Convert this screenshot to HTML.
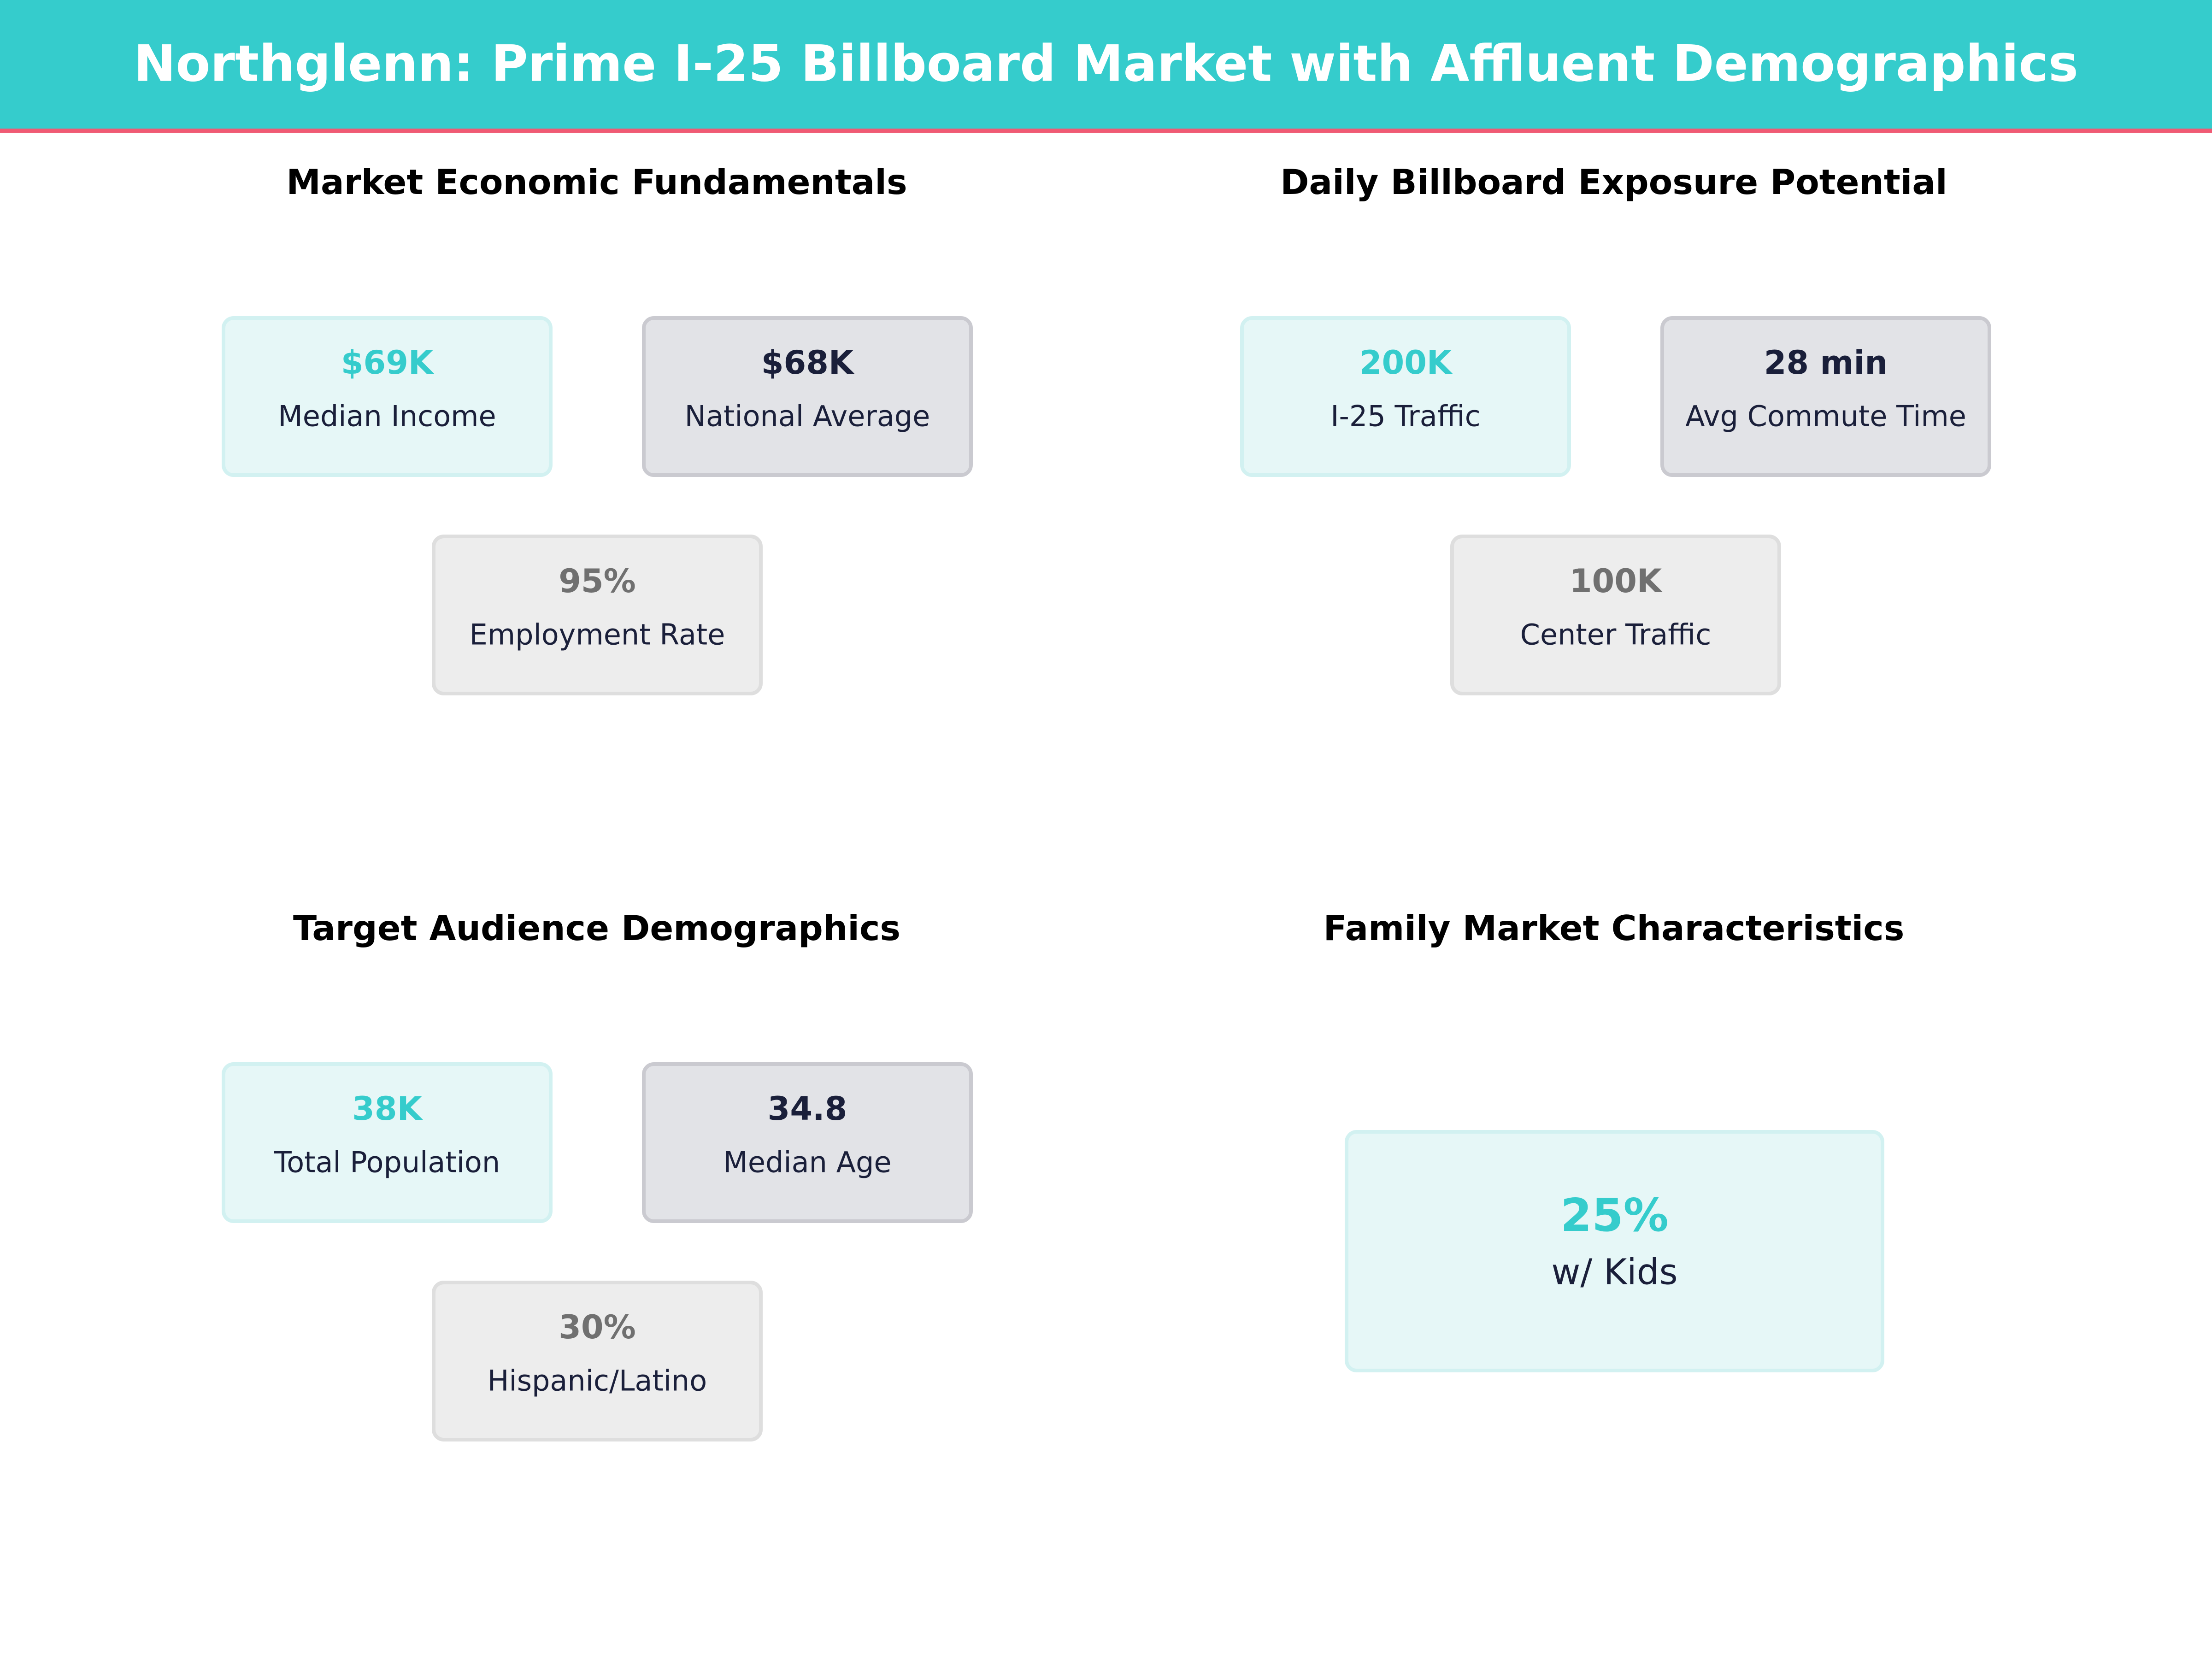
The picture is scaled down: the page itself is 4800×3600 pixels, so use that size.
<!DOCTYPE html>
<html><head><meta charset="utf-8">
<style>
html,body{margin:0;padding:0;}
body{width:4800px;height:3600px;position:relative;background:#fff;font-family:"DejaVu Sans","Liberation Sans",sans-serif;overflow:hidden;}
.hdr{position:absolute;left:0;top:0;width:4800px;height:279px;background:#35CCCC;border-bottom:9px solid #F05A74;}
.hdr div{position:absolute;left:0;width:4800px;top:138px;transform:translateY(-50%);text-align:center;color:#fff;font-weight:bold;font-size:109px;}
.st{position:absolute;font-weight:bold;font-size:75px;color:#000;transform:translate(-50%,-50%);white-space:nowrap;}
.box{position:absolute;box-sizing:border-box;border-radius:26px;border:8px solid;}
.b1{background:#E6F7F7;border-color:#D2F1F1;}
.b2{background:#E2E3E7;border-color:#CACAD0;}
.b3{background:#EDEDED;border-color:#DEDEDE;}
.v{position:absolute;left:0;right:0;text-align:center;font-weight:bold;transform:translateY(-50%);white-space:nowrap;}
.l{position:absolute;left:0;right:0;text-align:center;color:#1A1F3A;transform:translateY(-50%);white-space:nowrap;}
</style></head><body>
<div class="hdr"><div>Northglenn: Prime I-25 Billboard Market with Affluent Demographics</div></div>

<div class="st" style="left:1295px;top:395px">Market Economic Fundamentals</div>
<div class="st" style="left:3502px;top:395px">Daily Billboard Exposure Potential</div>
<div class="st" style="left:1295px;top:2014px">Target Audience Demographics</div>
<div class="st" style="left:3502px;top:2014px">Family Market Characteristics</div>

<div id="cards"></div>

<div class="box b1" style="left:2918px;top:2452px;width:1171px;height:526px">
<div class="v" style="top:178px;font-size:98px;color:#35CCCC">25%</div>
<div class="l" style="top:301px;font-size:77px">w/ Kids</div>
</div>

<script>
const cardValues=["$69K","$68K","95%","200K","28 min","100K","38K","34.8","30%"];
const cardLabels=["Median Income","National Average","Employment Rate","I-25 Traffic","Avg Commute Time","Center Traffic","Total Population","Median Age","Hispanic/Latino"];
const cardNames=["median-income","national-average","employment-rate","i25-traffic","commute-time","center-traffic","total-population","median-age","hispanic-latino"];
const panelOrigins=[[0,0],[2210,0],[0,1619]];
const slots=[[481,686,"b1","#35CCCC"],[1393,686,"b2","#1A1F3A"],[937,1160,"b3","#707070"]];
const root=document.getElementById('cards');
for(let p=0;p<3;p++){
  for(let s=0;s<3;s++){
    const i=p*3+s;
    const b=document.createElement('div');
    b.className='box '+slots[s][2];
    b.style.left=(panelOrigins[p][0]+slots[s][0])+'px';
    b.style.top=(panelOrigins[p][1]+slots[s][1])+'px';
    b.style.width='718px';b.style.height='349px';
    
    
    const v=document.createElement('div');
    v.className='v';v.style.top='93px';v.style.fontSize='70px';v.style.color=slots[s][3];
    v.textContent=cardValues[i];
    
    
    const l=document.createElement('div');
    l.className='l';l.style.top='209px';l.style.fontSize='62px';
    l.textContent=cardLabels[i];
    
    
    b.appendChild(v);b.appendChild(l);root.appendChild(b);
  }
}
</script>
</body></html>
